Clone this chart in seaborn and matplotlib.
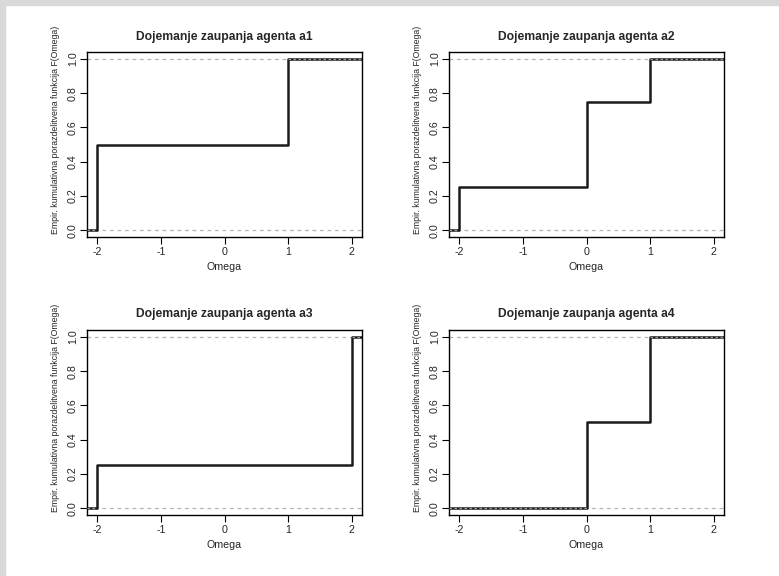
import numpy as np
import pandas as pd
import matplotlib
matplotlib.use("Agg")
import matplotlib.pyplot as plt
import seaborn as sns
from matplotlib import font_manager

sns.set_theme(style="white")
plt.rcParams['font.family'] = ['Liberation Sans', 'DejaVu Sans']

agents = ["a1", "a2", "a3", "a4"]
omega_a1 = [-2, -2, 1, 1]
omega_a2 = [-2, 0, 0, 1]
omega_a3 = [-2, 2, 2, 2]
omega_a4 = [0, 0, 1, 1]
samples = [omega_a1, omega_a2, omega_a3, omega_a4]
x_ticks = [-2, -1, 0, 1, 2]
y_ticks = [0.0, 0.2, 0.4, 0.6, 0.8, 1.0]
y_tick_labels = ["0.0", "0.2", "0.4", "0.6", "0.8", "1.0"]

title_fmt = "Dojemanje zaupanja agenta {}"
xlabel = "Omega"
ylabel = "Empir. kumulativna porazdelitvena funkcija F(Omega)"

XLIM = (-2.16, 2.16)
YLIM = (-0.04, 1.04)
FS = 7.7

names = {f.name for f in font_manager.fontManager.ttflist}
if "Liberation Sans Narrow" in names:
    YL_FAMILY, YL_SIZE = ["Liberation Sans Narrow", "DejaVu Sans"], 7.4
else:
    YL_FAMILY, YL_SIZE = ["Liberation Sans", "DejaVu Sans"], 6.3

fig = plt.figure(figsize=(7.79, 5.76), dpi=100)
fig.patch.set_facecolor("white")

# light gray frame at top and left
fig.patches.append(plt.Rectangle((0, 0.991), 1, 0.009, transform=fig.transFigure,
                                 color="#d9d9d9", zorder=0))
fig.patches.append(plt.Rectangle((0, 0), 0.0064, 1, transform=fig.transFigure,
                                 color="#d9d9d9", zorder=0))

lefts = [0.1117, 0.5764]
widths = 0.353
bottoms = [0.5885, 0.1059]
height = 0.3212

for i, (name, vals) in enumerate(zip(agents, samples)):
    r, c = divmod(i, 2)
    ax = fig.add_axes([lefts[c], bottoms[r], widths, height])
    df = pd.DataFrame({"Omega": vals})
    ax.axhline(0, color="#b3b3b3", lw=0.9, ls=(0, (3, 3)), zorder=1)
    ax.axhline(1, color="#b3b3b3", lw=0.9, ls=(0, (3, 3)), zorder=1)
    sns.ecdfplot(data=df, x="Omega", ax=ax, color="#1a1a1a", lw=1.8, zorder=2)
    vmin, vmax = min(vals), max(vals)
    ax.plot([XLIM[0], vmin], [0, 0], color="#1a1a1a", lw=1.8, zorder=2,
            solid_capstyle="butt")
    ax.plot([vmax, XLIM[1]], [1, 1], color="#1a1a1a", lw=1.8, zorder=2,
            solid_capstyle="butt")
    # dashed overlay on end segments
    ax.plot([XLIM[0], vmin], [0, 0], color="#9a9a9a", lw=0.9,
            ls=(0, (2, 2)), zorder=3)
    ax.plot([vmax, XLIM[1]], [1, 1], color="#9a9a9a", lw=0.9,
            ls=(0, (2, 2)), zorder=3)
    ax.set_xlim(*XLIM)
    ax.set_ylim(*YLIM)
    ax.set_xticks(x_ticks)
    ax.set_xticklabels([str(t) for t in x_ticks])
    ax.set_yticks(y_ticks)
    ax.set_yticklabels(y_tick_labels, rotation=90, va="center")
    ax.tick_params(axis="both", which="both", direction="out", length=5,
                   width=0.8, color="black", labelsize=FS, pad=2,
                   bottom=True, left=True)
    ax.tick_params(axis="y", pad=1.5)
    for s in ax.spines.values():
        s.set_color("black")
        s.set_linewidth(1.0)
    ax.set_xlabel(xlabel, fontsize=FS, labelpad=4)
    ax.set_ylabel(ylabel, fontsize=YL_SIZE, family=YL_FAMILY)
    ax.yaxis.set_label_coords(-0.098, 0.578)
    ax.set_title(title_fmt.format(name), fontsize=8.7, fontweight="bold", pad=9)
    ax.grid(False)

fig.savefig("out.png", dpi=100, facecolor="white")
